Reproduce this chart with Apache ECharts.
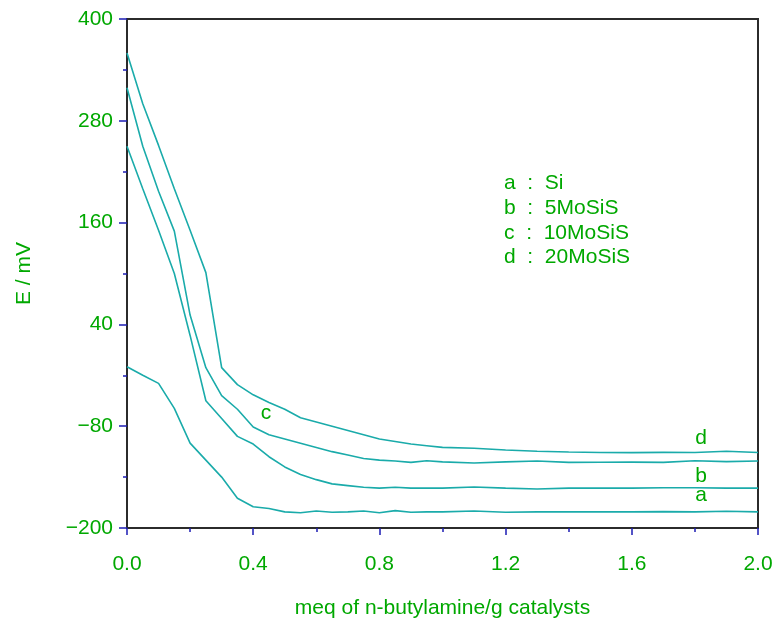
<!DOCTYPE html>
<html>
<head>
<meta charset="utf-8">
<script src="https://cdn.jsdelivr.net/npm/echarts@6/dist/echarts.min.js"></script>
<style>
  html, body { margin: 0; padding: 0; background: #fff; }
  #chart { width: 777px; height: 625px; }
</style>
</head>
<body>
<div id="chart"></div>
<script>
// x positions (meq of n-butylamine / g catalyst)
var xs = [0, 0.05, 0.1, 0.15, 0.2, 0.25, 0.3, 0.35, 0.4, 0.45, 0.5, 0.55, 0.6, 0.65, 0.7,
          0.75, 0.8, 0.85, 0.9, 0.95, 1.0, 1.1, 1.2, 1.3, 1.4, 1.5, 1.6, 1.7, 1.8, 1.9, 2.0];

// E / mV for each catalyst
var siA = [-10, -20, -29.5, -59, -100, -120, -140, -165, -175, -177, -181, -182, -180, -181.5, -181,
           -180, -182, -179.5, -181.5, -181, -181, -180, -181.5, -181, -181, -181, -181, -180.7, -181, -180.3, -181];
var mo5B = [250, 200, 151, 100, 27, -50, -71, -92, -101, -116, -128, -137, -143, -148, -150,
            -152, -153, -152, -153, -153, -153, -151.7, -153, -154, -153, -153, -153, -152.5, -152.5, -153, -153];
var mo10C = [319, 250, 197, 150, 51, -11, -44, -60, -81, -90, -95, -100, -105, -110, -114,
             -118, -120, -121, -122.6, -120.7, -122, -123.4, -122, -121, -122.6, -122.5, -122.3, -122.6, -120.7, -121.7, -121];
var mo20D = [360, 300, 251, 200, 151, 101, -11, -31, -43, -52, -60, -70, -75, -80, -85,
             -90, -95, -98, -101, -103, -105, -106, -108, -109.6, -110.4, -111, -111.2, -110.8, -111, -109.6, -111];

var legendLines = ['a  :  Si', 'b  :  5MoSiS', 'c  :  10MoSiS', 'd  :  20MoSiS'];
var xTicks = { min: 0, max: 2, step: 0.4 };
var yTicks = { min: -200, max: 400, step: 120 };

var green = '#00a800';
var teal = '#1aabaa';
var blue = '#1c1cb4';
var font = 'Liberation Sans';
var fs = 21;

function pairs(ys) {
  return xs.map(function (x, i) { return [x, ys[i]]; });
}

function curve(name, ys) {
  return {
    name: name,
    type: 'line',
    symbol: 'none',
    data: pairs(ys),
    lineStyle: { color: teal, width: 1.6 },
    itemStyle: { color: teal },
    animation: false
  };
}

var chart = echarts.init(document.getElementById('chart'));

var graphics = legendLines.map(function (t, i) {
  return {
    type: 'text', left: 504, top: 173 + i * 24.7,
    style: { text: t, fill: green, font: fs + 'px "' + font + '"' }
  };
});
// curve letters
[['d', 701, 438], ['b', 701, 476], ['a', 701, 495], ['c', 266, 413]].forEach(function (l) {
  graphics.push({
    type: 'text', x: l[1], y: l[2],
    style: { text: l[0], fill: green, font: fs + 'px "' + font + '"', align: 'center', verticalAlign: 'middle' }
  });
});

chart.setOption({
  backgroundColor: '#fff',
  grid: { left: 127, right: 19, top: 19, bottom: 97, show: true, borderColor: '#2b2b2b', borderWidth: 2, backgroundColor: 'transparent' },
  xAxis: {
    type: 'value',
    min: xTicks.min, max: xTicks.max, interval: xTicks.step,
    name: 'meq of n-butylamine/g catalysts',
    nameLocation: 'middle', nameGap: 70,
    nameTextStyle: { color: green, fontSize: fs, fontFamily: font },
    axisLine: { show: true, onZero: false, lineStyle: { color: '#2b2b2b', width: 2 } },
    axisTick: { show: true, length: 7, lineStyle: { color: blue, width: 1.5 } },
    minorTick: { show: true, splitNumber: 2, length: 4, lineStyle: { color: blue, width: 1.5 } },
    axisLabel: { color: green, fontSize: fs, fontFamily: font, margin: 26, formatter: function (v) { return v.toFixed(1); } },
    splitLine: { show: false }
  },
  yAxis: {
    type: 'value',
    min: yTicks.min, max: yTicks.max, interval: yTicks.step,
    name: 'E / mV',
    nameLocation: 'middle', nameGap: 92, nameRotate: 90,
    nameTextStyle: { color: green, fontSize: fs, fontFamily: font },
    axisLine: { show: true, onZero: false, lineStyle: { color: '#2b2b2b', width: 2 } },
    axisTick: { show: true, length: 8, lineStyle: { color: blue, width: 1.5 } },
    minorTick: { show: true, splitNumber: 2, length: 4, lineStyle: { color: blue, width: 1.5 } },
    axisLabel: { color: green, fontSize: fs, fontFamily: font, margin: 14, formatter: function (v) { return String(v).replace('-', '\u2212'); } },
    splitLine: { show: false }
  },
  series: [
    curve('a', siA),
    curve('b', mo5B),
    curve('c', mo10C),
    curve('d', mo20D)
  ],
  graphic: graphics
});
</script>
</body>
</html>
